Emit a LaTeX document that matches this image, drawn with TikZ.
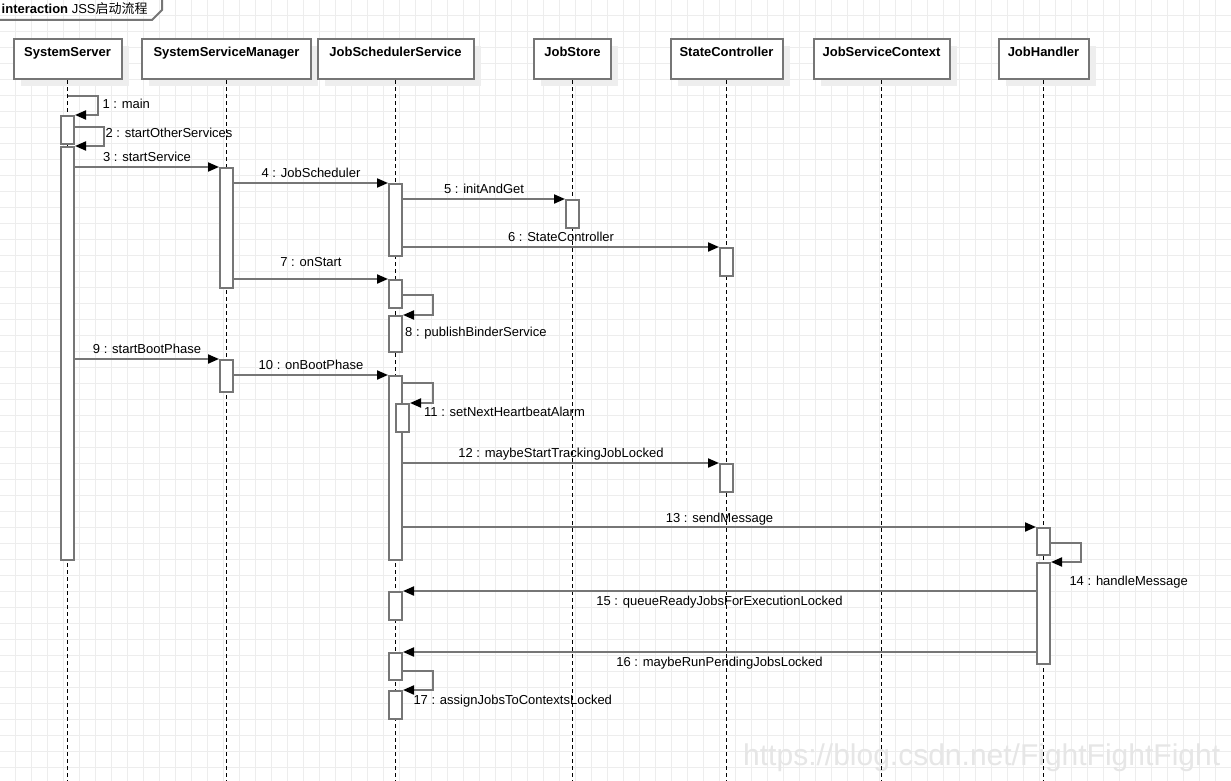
\documentclass[tikz,border=0pt]{standalone}
\usepackage{fontspec}
\setmainfont{Liberation Sans}
\newfontfamily\cjkfont{Noto Sans CJK SC}
\usetikzlibrary{arrows.meta,shadows}
\definecolor{linegray}{HTML}{767676}
\definecolor{gridgray}{HTML}{EDEDED}
\definecolor{shadowgray}{HTML}{EEEEEE}
\definecolor{wmgray}{HTML}{E6E6E6}
\begin{document}
\begin{tikzpicture}[x=1pt,y=-1pt,
  gridline/.style={draw=gridgray,line width=1pt},
  head/.style={draw=linegray,line width=2pt,fill=white,minimum height=40pt,inner sep=0,anchor=north,
    drop shadow={shadow xshift=7pt,shadow yshift=-7pt,fill=shadowgray,opacity=1}},
  headlbl/.style={font=\fontsize{13}{15}\selectfont\bfseries,inner sep=0,anchor=base},
  lifeline/.style={draw=black,line width=1pt,dash pattern=on 4pt off 3pt},
  bar/.style={draw=linegray,line width=2pt,fill=white,minimum width=13pt,inner sep=0,anchor=north},
  msg/.style={draw=linegray,line width=2pt,-{Triangle[length=11pt,width=9pt,black]}},
  lbl/.style={font=\fontsize{13}{15}\selectfont,inner sep=0},
  lblabove/.style={lbl,anchor=base,yshift=6pt},
  lblbelow/.style={lbl,anchor=base,yshift=-14pt},
  selflbl/.style={lbl,anchor=base west},
]
\useasboundingbox (0,0) rectangle (1231,781);
\fill[white] (0,0) rectangle (1231,781);
% grid
\foreach \x in {15,31,...,1230} \draw[gridline] (\x,0) -- (\x,781);
\foreach \y in {15.5,31.5,...,780} \draw[gridline] (0,\y) -- (1231,\y);

% watermark
\node[font=\fontsize{30}{32}\selectfont,text=wmgray,anchor=base west,inner sep=0] (wm) at (743,765) {https://blog.csdn.net/FightFightFight};

% frame title
\draw[draw=linegray,line width=2pt] (0,20) -- (152,20) -- (162,10) -- (162,0);
\node[lbl,anchor=base west] (title) at (1.5,13.5) {\bfseries interaction\mdseries{} JSS{\cjkfont 启动流程}};

% headers
\node[head,minimum width=108pt] (ss)  at (67.5,38.3) {};
\node[head,minimum width=169pt] (ssm) at (226.5,38.3) {};
\node[head,minimum width=156pt] (jss) at (395.5,38.3) {};
\node[head,minimum width=77pt]  (js)  at (572.5,38.3) {};
\node[head,minimum width=112pt] (sc)  at (726.5,38.3) {};
\node[head,minimum width=136pt] (jsc) at (881.5,38.3) {};
\node[head,minimum width=90pt]  (jh)  at (1043.5,38.3) {};
\node[headlbl] (ssT)  at ([yshift=-18.4pt]ss.north)  {SystemServer};
\node[headlbl] (ssmT) at ([yshift=-18.4pt]ssm.north) {SystemServiceManager};
\node[headlbl] (jssT) at ([yshift=-18.4pt]jss.north) {JobSchedulerService};
\node[headlbl] (jsT)  at ([yshift=-18.4pt]js.north)  {JobStore};
\node[headlbl] (scT)  at ([yshift=-18.4pt]sc.north)  {StateController};
\node[headlbl] (jscT) at ([yshift=-18.4pt]jsc.north) {JobServiceContext};
\node[headlbl] (jhT)  at ([yshift=-18.4pt]jh.north)  {JobHandler};

% lifelines
\coordinate (ssE)  at (67.5,781);
\coordinate (ssmE) at (226.5,781);
\coordinate (jssE0) at (395.5,781);
\coordinate (jsE)  at (572.5,781);
\coordinate (scE)  at (726.5,781);
\coordinate (jscE) at (881.5,781);
\coordinate (jhE)  at (1043.5,781);
\draw[lifeline] (ss.south) -- (ssE);
\draw[lifeline] (ssm.south) -- (ssmE);
\draw[lifeline] (jss.south) -- (jssE0);
\draw[lifeline] (js.south) -- (jsE);
\draw[lifeline] (sc.south) -- (scE);
\draw[lifeline] (jsc.south) -- (jscE);
\draw[lifeline] (jh.south) -- (jhE);

% activation bars
\node[bar,minimum height=28pt]  (ssA)  at (67.5,115) {};
\node[bar,minimum height=413pt] (ssB)  at (67.5,146) {};
\node[bar,minimum height=120pt] (ssmA) at (226.5,167) {};
\node[bar,minimum height=72pt]  (jssA) at (395.5,183) {};
\node[bar,minimum height=28pt]  (jsA)  at (572.5,199) {};
\node[bar,minimum height=28pt]  (scA)  at (726.5,247) {};
\node[bar,minimum height=28pt]  (jssB) at (395.5,279) {};
\node[bar,minimum height=36pt]  (jssC) at (395.5,315) {};
\node[bar,minimum height=32pt]  (ssmB) at (226.5,359) {};
\node[bar,minimum height=184pt] (jssD) at (395.5,375) {};
\node[bar,minimum height=28pt]  (jssE) at (402.5,403) {};
\node[bar,minimum height=28pt]  (scB)  at (726.5,463) {};
\node[bar,minimum height=27pt]  (jhA)  at (1043.5,527) {};
\node[bar,minimum height=101pt] (jhB)  at (1043.5,562) {};
\node[bar,minimum height=28pt]  (jssF) at (395.5,591) {};
\node[bar,minimum height=27pt]  (jssG) at (395.5,652) {};
\node[bar,minimum height=28pt]  (jssH) at (395.5,690) {};

% messages
\draw[msg] (ss.south |- 0,96) -- ++(30.5,0) |- (ssA.north east);
\node[selflbl] (m1) at (102.3,109) {1 : main};
\draw[msg] (ssA.east |- 0,127) -- ++(29,0) |- (ssB.north east);
\node[selflbl] (m2) at (105.3,137.3) {2 : startOtherServices};
\draw[msg] (ssB.east |- ssmA.north) -- node[lblabove] (m3) {3 : startService} (ssmA.north west);
\draw[msg] (ssmA.east |- jssA.north) -- node[lblabove] (m4) {4 : JobScheduler} (jssA.north west);
\draw[msg] (jssA.east |- jsA.north) -- node[lblabove] (m5) {5 : initAndGet} (jsA.north west);
\draw[msg] (jssA.east |- scA.north) -- node[lblabove] (m6) {6 : StateController} (scA.north west);
\draw[msg] (ssmA.east |- jssB.north) -- node[lbl,anchor=base,yshift=13pt] (m7) {7 : onStart} (jssB.north west);
\draw[msg] (jssB.east |- 0,295) -- ++(30,0) |- (jssC.north east);
\node[selflbl] (m8) at (405,336.7) {8 : publishBinderService};
\draw[msg] (ssB.east |- ssmB.north) -- node[lblabove] (m9) {9 : startBootPhase} (ssmB.north west);
\draw[msg] (ssmB.east |- jssD.north) -- node[lblabove] (m10) {10 : onBootPhase} (jssD.north west);
\draw[msg] (jssD.east |- 0,383) -- ++(30,0) |- (jssE.north east);
\node[selflbl] (m11) at (424,416.7) {11 : setNextHeartbeatAlarm};
\draw[msg] (jssD.east |- scB.north) -- node[lblabove] (m12) {12 : maybeStartTrackingJobLocked} (scB.north west);
\draw[msg] (jssD.east |- jhA.north) -- node[lbl,anchor=base,yshift=5pt] (m13) {13 : sendMessage} (jhA.north west);
\draw[msg] (jhA.east |- 0,543) -- ++(30,0) |- (jhB.north east);
\node[selflbl] (m14) at (1069.3,585.3) {14 : handleMessage};
\draw[msg] (jhB.west |- jssF.north) -- node[lblbelow] (m15) {15 : queueReadyJobsForExecutionLocked} (jssF.north east);
\draw[msg] (jhB.west |- jssG.north) -- node[lblbelow] (m16) {16 : maybeRunPendingJobsLocked} (jssG.north east);
\draw[msg] (jssG.east |- 0,671) -- ++(30,0) |- (jssH.north east);
\node[selflbl] (m17) at (413.3,704.3) {17 : assignJobsToContextsLocked};
\end{tikzpicture}
\end{document}
